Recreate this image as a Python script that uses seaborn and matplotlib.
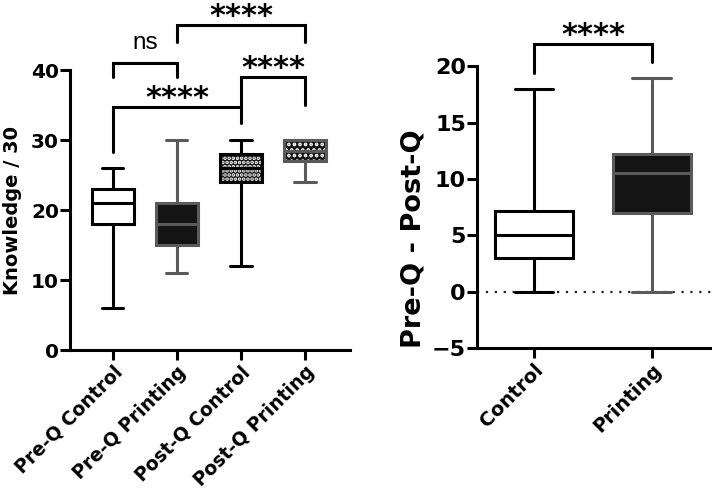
import numpy as np
import pandas as pd
import matplotlib
matplotlib.use("Agg")
import matplotlib.pyplot as plt
import seaborn as sns
from matplotlib.patches import PathPatch

# five-number summaries: min, Q1, median, Q3, max
groups = ["Pre-Q Control", "Pre-Q Printing", "Post-Q Control", "Post-Q Printing"]
pre_control = [6, 18, 21, 23, 26]
pre_printing = [11, 15, 18, 21, 30]
post_control = [12, 24, 26, 28, 30]
post_printing = [24, 27, 28.5, 30, 30]

diff_groups = ["Control", "Printing"]
diff_control = [0, 3, 5, 7.2, 18]
diff_printing = [0, 7, 10.5, 12.2, 19]

# significance brackets: (left group, right group, bar height, left leg end, right leg end, label)
knowledge_tests = [
    (0, 1, 41.1, 39.1, 39.1, "ns"),
    (0, 2, 34.7, 28.3, 32.4, "****"),
    (2, 3, 39.0, 34.7, 35.0, "****"),
    (1, 3, 46.4, 44.0, 44.0, "****"),
]
diff_tests = [(0, 1, 22.0, 19.4, 20.4, "****")]

sns.set_theme(style="ticks", rc={"text.color": "black", "axes.labelcolor": "black",
                                 "xtick.color": "black", "ytick.color": "black"})
plt.rcParams["font.family"] = ["DejaVu Sans"]
plt.rcParams["font.weight"] = "bold"
plt.rcParams["hatch.linewidth"] = 1.8

knowledge = pd.DataFrame({
    "group": np.repeat(groups, 5),
    "value": pre_control + pre_printing + post_control + post_printing,
})
diff = pd.DataFrame({
    "group": np.repeat(diff_groups, 5),
    "value": diff_control + diff_printing,
})

DARK = "#141414"
GREY = "#5a5a5a"
LW = 2.2


def draw_box(ax, df, order, name, fill, edge, hatch=None):
    sub = df[df["group"] == name]
    sns.boxplot(data=sub, x="group", y="value", order=order, color=fill,
                linecolor=edge, linewidth=LW, width=0.66, whis=(0, 100),
                saturation=1, fliersize=0, ax=ax)
    if hatch:
        box = ax.patches[-1]
        box.set_facecolor(DARK)
        box.set_edgecolor("white")
        box.set_hatch(hatch)
        box.set_linewidth(0)
        ax.add_patch(PathPatch(box.get_path(), transform=box.get_transform(),
                               fill=False, ec=edge, lw=LW, zorder=box.get_zorder() + 0.5))


def brackets(ax, tests):
    for x1, x2, y, y1, y2, label in tests:
        ax.plot([x1, x1, x2, x2], [y1, y, y, y2], color="black", lw=2.2,
                clip_on=False, solid_joinstyle="miter")
        if label == "ns":
            ax.annotate(label, xy=((x1 + x2) / 2, y), xytext=(0, 9.5),
                        textcoords="offset points", ha="center", va="baseline",
                        fontsize=17.5, fontweight="normal", family="Liberation Sans",
                        annotation_clip=False)
        else:
            ax.annotate(label, xy=((x1 + x2) / 2, y), xytext=(0, 0),
                        textcoords="offset points", ha="center", va="baseline",
                        fontsize=22, fontweight="bold", annotation_clip=False)


def style_axes(ax, tick_fs, xlab_fs):
    for side in ["top", "right"]:
        ax.spines[side].set_visible(False)
    for side in ["left", "bottom"]:
        ax.spines[side].set_linewidth(2.2)
        ax.spines[side].set_color("black")
    ax.tick_params(axis="both", direction="out", length=7, width=2.2, color="black")
    ax.tick_params(axis="y", labelsize=tick_fs, pad=1)
    ax.tick_params(axis="x", labelsize=xlab_fs, pad=2)
    for lab in ax.get_yticklabels():
        lab.set_fontweight("bold")
    for lab in ax.get_xticklabels():
        lab.set_fontweight("bold")
        lab.set_rotation(45)
        lab.set_ha("right")
        lab.set_rotation_mode("anchor")
    ax.set_xlabel("")


fig = plt.figure(figsize=(7.12, 4.91), dpi=100)
ax1 = fig.add_axes([0.0983, 0.287, 0.393, 0.570])
ax2 = fig.add_axes([0.670, 0.291, 0.330, 0.574])

# left panel
draw_box(ax1, knowledge, groups, groups[0], "white", "black")
draw_box(ax1, knowledge, groups, groups[1], DARK, GREY)
draw_box(ax1, knowledge, groups, groups[2], DARK, "black", hatch="....")
draw_box(ax1, knowledge, groups, groups[3], DARK, GREY, hatch="...")
ax1.set_xlim(-0.67, 3.70)
ax1.set_ylim(0, 40)
ax1.set_yticks([0, 10, 20, 30, 40])
ax1.set_xticks(range(len(groups)))
ax1.set_xticklabels(groups)
style_axes(ax1, 14.5, 13.5)
ax1.set_ylabel("Knowledge / 30", fontsize=14, fontweight="bold")
ax1.yaxis.set_label_coords(-0.171, 0.5)
brackets(ax1, knowledge_tests)

# right panel
ax2.axhline(0, color="#222222", lw=1.6, ls=(0, (1, 3)), zorder=0)
draw_box(ax2, diff, diff_groups, diff_groups[0], "white", "black")
draw_box(ax2, diff, diff_groups, diff_groups[1], DARK, GREY)
ax2.set_xlim(-0.483, 1.51)
ax2.set_ylim(-5, 20)
ax2.set_yticks([-5, 0, 5, 10, 15, 20])
ax2.set_xticks(range(len(diff_groups)))
ax2.set_xticklabels(diff_groups)
style_axes(ax2, 16, 14)
ax2.set_ylabel("Pre-Q - Post-Q", fontsize=19.5, fontweight="bold")
ax2.yaxis.set_label_coords(-0.213, 0.39)
brackets(ax2, diff_tests)

fig.savefig("out.png", dpi=100)
